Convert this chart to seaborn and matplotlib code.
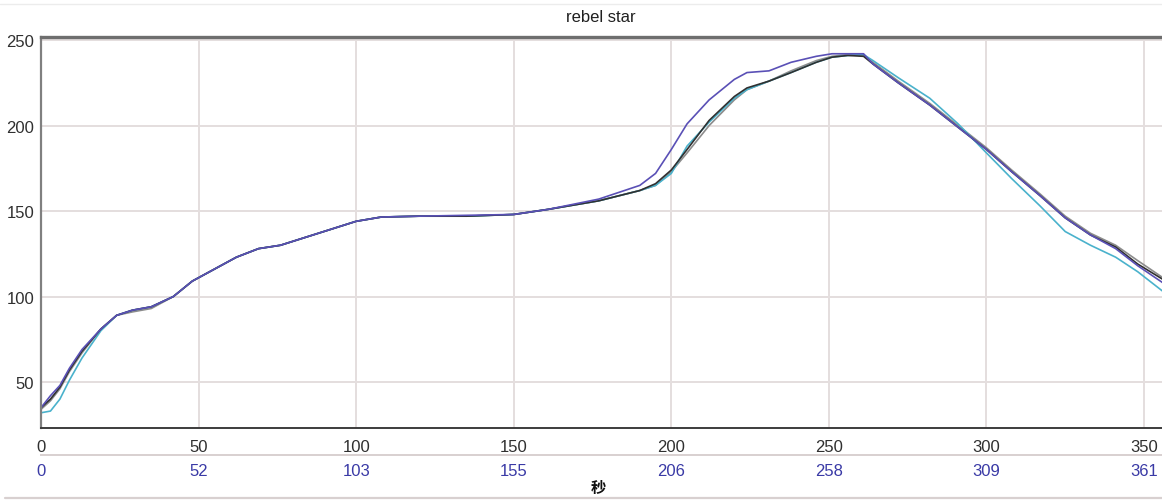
import pandas as pd
import matplotlib.pyplot as plt
import matplotlib.lines as mlines
import seaborn as sns

# sample positions (x) and the four traces
x_vals = [0, 3, 6, 9, 13, 19, 24, 29, 35, 42, 48, 55, 62, 69, 76, 88, 100, 108, 120, 135,
          150, 161, 177, 190, 195, 200, 205, 212, 220, 224, 231, 238, 246, 251, 256, 261,
          264, 272, 282, 291, 300, 308, 317, 325, 333, 341, 348, 356]
black_vals = [35, 40, 47, 57, 68, 81, 89, 92, 94, 100, 109, 116, 123, 128, 130, 137, 144, 146.5, 147, 147,
              148, 151, 156, 162, 166, 174, 186, 203, 217, 222, 226, 231, 237, 240, 241, 240.5,
              236, 225, 212, 199, 186, 173, 159, 146, 136, 129, 119, 110]
gray_vals = [34, 39, 46, 56, 67, 81, 89, 91, 93, 100, 109, 116, 123, 128, 130, 137, 144, 146.5, 147, 147,
             148, 151, 156, 162, 165, 173, 184, 200, 215, 221, 226, 232, 238, 240.5, 241.5, 241,
             237, 226, 213, 200, 187, 174, 160, 147, 137, 130, 121, 111]
blue_vals = [35, 42, 48, 58, 69, 81, 89, 92, 94, 100, 109, 116, 123, 128, 130, 137, 144, 146.5, 147, 147.5,
             148, 151, 157, 165, 172, 186, 201, 215, 227, 231, 232, 237, 240.5, 242, 242, 242,
             236, 225, 212, 199, 186, 173, 159, 146, 136, 128, 118, 108]
cyan_vals = [32, 33, 40, 51, 64, 80, 89, 92, 94, 100, 109, 116, 123, 128, 130, 137, 144, 146.5, 147, 147,
             148, 151, 156, 162, 165, 172, 188, 202, 216, 221, 226, 231, 237, 240, 241, 241.5,
             238, 228, 216, 201, 184, 169, 153, 138, 130, 123, 114.5, 103]

x_ticks = [0, 50, 100, 150, 200, 250, 300, 350]
sec_labels = ['0', '52', '103', '155', '206', '258', '309', '361']
y_ticks = [50, 100, 150, 200, 250]

series = {'gray': gray_vals, 'cyan': cyan_vals, 'black': black_vals, 'blue': blue_vals}
palette = {'gray': '#8c8c8c', 'cyan': '#4ab2cc', 'black': '#303030', 'blue': '#5a50b6'}

frames = [pd.DataFrame({'x': x_vals, 'y': v, 'trace': k}) for k, v in series.items()]
df = pd.concat(frames, ignore_index=True)

sns.set_style('white')
plt.rcParams['font.family'] = ['Liberation Sans Narrow', 'Liberation Sans', 'DejaVu Sans']

fig = plt.figure(figsize=(11.62, 5.02), dpi=100)
ax = fig.add_axes([41 / 1162, 1 - 429 / 502, (1162 - 41) / 1162, (429 - 38) / 502])

sns.lineplot(data=df, x='x', y='y', hue='trace', palette=palette, linewidth=1.2,
             legend=False, ax=ax, estimator=None, sort=False)

ax.set_xlim(0, 355.7)
ax.set_ylim(23.1, 251.8)
ax.set_xticks(x_ticks)
ax.set_yticks(y_ticks)
ax.set_xlabel('')
ax.set_ylabel('')
ax.grid(True, color='#e4dede', linewidth=1.4)
ax.set_axisbelow(True)

ax.tick_params(axis='both', direction='in', length=3, width=1, colors='#303030',
               labelsize=12, labelcolor='#303030')
ax.tick_params(axis='x', pad=8)
ax.tick_params(axis='y', pad=5)

ax.spines['top'].set_color('#6e6e6e')
ax.spines['top'].set_linewidth(2.4)
ax.spines['left'].set_color('#808080')
ax.spines['left'].set_linewidth(1.6)
ax.spines['bottom'].set_color('#3c3c3c')
ax.spines['bottom'].set_linewidth(1.4)
ax.spines['right'].set_visible(False)

# second row of labels in blue
sec = ax.secondary_xaxis(-(456 - 429) / (429 - 38))
sec.set_xticks(x_ticks)
sec.set_xticklabels(sec_labels)
sec.tick_params(length=0, pad=6, labelsize=12, labelcolor='#3a3aa6')
sec.spines['bottom'].set_color('#d8d0d0')
sec.spines['bottom'].set_linewidth(1.4)

fig.text(601 / 1162, 1 - 17 / 502, 'rebel star', ha='center', va='center',
         fontsize=12, color='#202020')
fig.text(598 / 1162, 1 - 488 / 502, '秒', ha='center', va='center', fontsize=11,
         fontweight='bold', color='#101010', family=['Noto Sans CJK SC', 'DejaVu Sans'])

# thin frame lines at top and bottom of the window
fig.add_artist(mlines.Line2D([0, 1], [1 - 5 / 502, 1 - 5 / 502], color='#ececec', linewidth=1))
fig.add_artist(mlines.Line2D([5 / 1162, 1], [1 - 499 / 502, 1 - 499 / 502], color='#d8d0d0', linewidth=1.6))

fig.savefig('out.png', dpi=100)
plt.close(fig)
